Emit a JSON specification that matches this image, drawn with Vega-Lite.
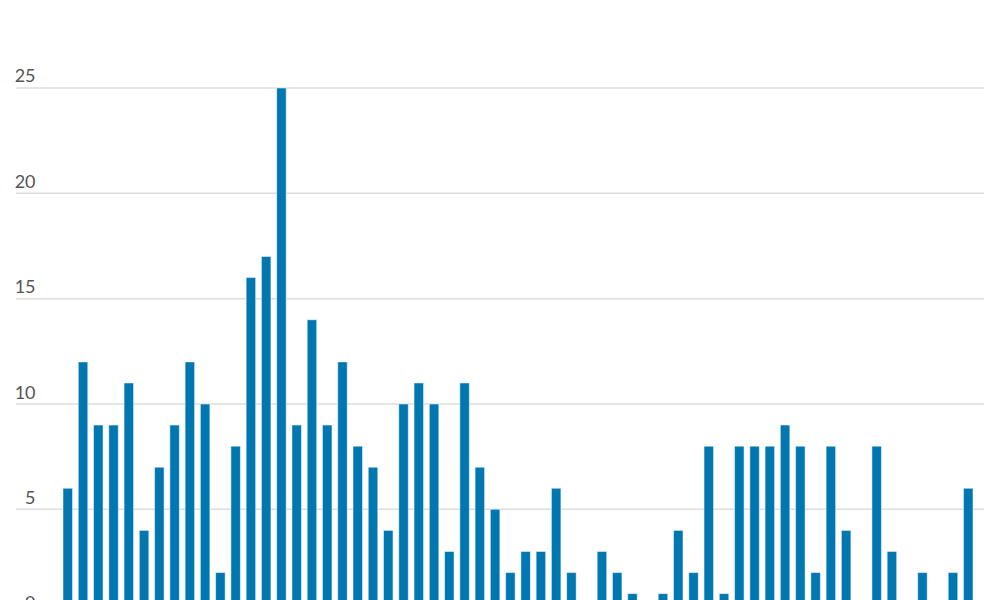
{
  "$schema": "https://vega.github.io/schema/vega-lite/v6.json",
  "autosize": "none",
  "width": 968,
  "height": 526.7,
  "padding": {"left": 16, "top": 88, "right": 16, "bottom": 0},
  "background": "white",
  "config": {"view": {"stroke": null}},
  "layer": [
    {
      "data": {"values": [{"g": 0}, {"g": 5}, {"g": 10}, {"g": 15}, {"g": 20}, {"g": 25}]},
      "mark": {"type": "rule", "color": "#dddddd", "strokeWidth": 1.5},
      "encoding": {
        "y": {"field": "g", "type": "quantitative"}
      }
    },
    {
      "data": {
        "values": [
          {"i": 1, "v": 6}, {"i": 2, "v": 12}, {"i": 3, "v": 9}, {"i": 4, "v": 9}, {"i": 5, "v": 11},
          {"i": 6, "v": 4}, {"i": 7, "v": 7}, {"i": 8, "v": 9}, {"i": 9, "v": 12}, {"i": 10, "v": 10},
          {"i": 11, "v": 2}, {"i": 12, "v": 8}, {"i": 13, "v": 16}, {"i": 14, "v": 17}, {"i": 15, "v": 25},
          {"i": 16, "v": 9}, {"i": 17, "v": 14}, {"i": 18, "v": 9}, {"i": 19, "v": 12}, {"i": 20, "v": 8},
          {"i": 21, "v": 7}, {"i": 22, "v": 4}, {"i": 23, "v": 10}, {"i": 24, "v": 11}, {"i": 25, "v": 10},
          {"i": 26, "v": 3}, {"i": 27, "v": 11}, {"i": 28, "v": 7}, {"i": 29, "v": 5}, {"i": 30, "v": 2},
          {"i": 31, "v": 3}, {"i": 32, "v": 3}, {"i": 33, "v": 6}, {"i": 34, "v": 2}, {"i": 35, "v": 0},
          {"i": 36, "v": 3}, {"i": 37, "v": 2}, {"i": 38, "v": 1}, {"i": 39, "v": 0}, {"i": 40, "v": 1},
          {"i": 41, "v": 4}, {"i": 42, "v": 2}, {"i": 43, "v": 8}, {"i": 44, "v": 1}, {"i": 45, "v": 8},
          {"i": 46, "v": 8}, {"i": 47, "v": 8}, {"i": 48, "v": 9}, {"i": 49, "v": 8}, {"i": 50, "v": 2},
          {"i": 51, "v": 8}, {"i": 52, "v": 4}, {"i": 53, "v": 0}, {"i": 54, "v": 8}, {"i": 55, "v": 3},
          {"i": 56, "v": 0}, {"i": 57, "v": 2}, {"i": 58, "v": 0}, {"i": 59, "v": 2}, {"i": 60, "v": 6}
        ]
      },
      "mark": {"type": "bar", "color": "#0077b0", "stroke": "#ffffff", "strokeOpacity": 0.5, "strokeWidth": 1},
      "encoding": {
        "x": {
          "field": "i",
          "type": "ordinal",
          "sort": null,
          "scale": {"range": [47, 957], "paddingInner": 0.377, "paddingOuter": 0},
          "axis": null
        },
        "y": {
          "field": "v",
          "type": "quantitative",
          "scale": {"domain": [0, 25], "nice": false},
          "axis": {
            "title": null,
            "values": [0, 5, 10, 15, 20, 25],
            "grid": false,
            "domain": false,
            "ticks": false,
            "labelPadding": -19,
            "labelAlign": "right",
            "labelBaseline": "alphabetic",
            "labelOffset": -6,
            "labelFont": "Lato",
            "labelFontSize": 18,
            "labelColor": "#555555"
          }
        }
      }
    }
  ]
}
